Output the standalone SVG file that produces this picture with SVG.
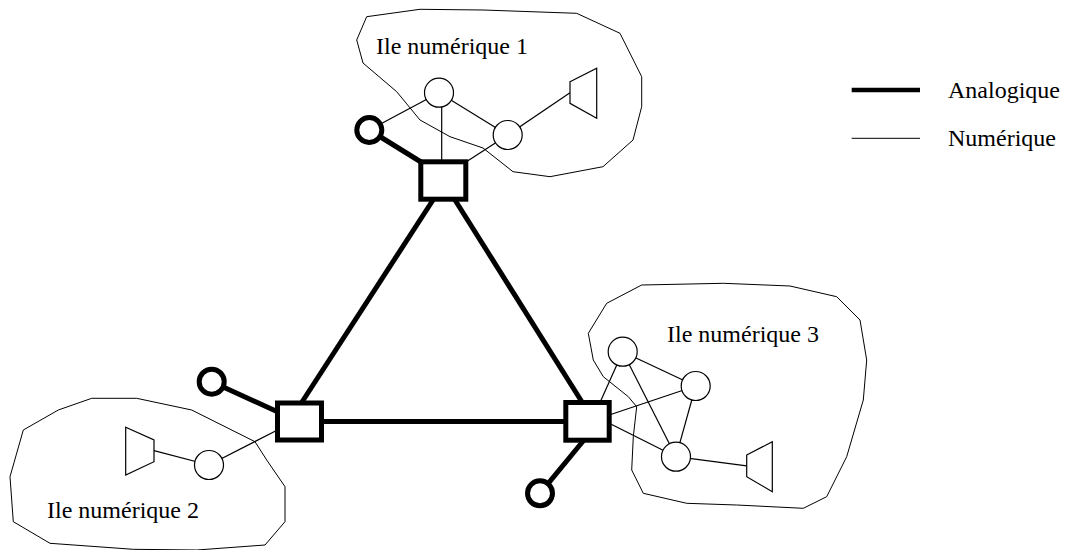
<svg xmlns="http://www.w3.org/2000/svg" width="1069" height="550" viewBox="0 0 1069 550">
<style>
.island{fill:none;stroke:#000;stroke-width:1;stroke-linejoin:round}
.thin{stroke:#000;stroke-width:1.2;fill:none}
.thick{stroke:#000;stroke-width:5;fill:none}
.dnode{fill:#fff;stroke:#000;stroke-width:1.2}
.phone{fill:#fff;stroke:#000;stroke-width:5}
.sw{fill:#fff;stroke:#000;stroke-width:5}
.lbl{font-family:"Liberation Serif","Times New Roman",serif;font-size:24px;fill:#000}
</style>
<rect width="1069" height="550" fill="#fff"/>
<g id="island1">
<polygon class="island" points="366.7,16.7 420,9.3 483,10 576.7,13.3 620,33.3 641.7,76.7 641.7,106.7 633,140 603,166.7 550,176.7 513,171.7 483,148 450,136.7 420,120 396.7,91.7 363,63 356.7,40"/>
<text class="lbl" x="376" y="54">Ile numérique 1</text>
</g>
<g id="island2">
<polygon class="island" points="91.7,398.3 136.7,398.3 191.7,410 255,441.7 266.7,460 285,486.7 285,521.7 265,545 196.7,550 133.3,549.3 50,543.3 13.3,521.7 10,476.7 23.3,430 58.3,410"/>
<text class="lbl" x="47" y="518">Ile numérique 2</text>
</g>
<g id="island3">
<polygon class="island" points="641.7,285 723.3,283.3 790,286 836.7,296.7 860,320 866.7,360 863.3,400 846.7,456.7 826.7,496.7 803.3,508.3 736.7,505 686.7,503.3 643.3,493.3 631.7,470 633.3,436.7 636.7,406.7 628.3,396.7 603.3,376.7 593.3,360 588.3,333.3 606.7,303.3"/>
<text class="lbl" x="667" y="342">Ile numérique 3</text>
</g>
<g id="connectors">
<line class="thick" x1="433" y1="200" x2="302" y2="402"/>
<line class="thick" x1="455" y1="200" x2="582" y2="402"/>
<line class="thick" x1="321" y1="421.5" x2="566" y2="421.5"/>
<line class="thick" x1="369.3" y1="130" x2="421" y2="162"/>
<line class="thick" x1="211.7" y1="381.7" x2="278" y2="412"/>
<line class="thick" x1="584" y1="440" x2="540" y2="493.3"/>
<line class="thin" x1="439" y1="92.7" x2="369.3" y2="130"/>
<line class="thin" x1="441.7" y1="107" x2="441.7" y2="162"/>
<line class="thin" x1="439" y1="92.7" x2="507.7" y2="135"/>
<line class="thin" x1="507.7" y1="135" x2="570" y2="92.7"/>
<line class="thin" x1="507.7" y1="135" x2="466" y2="162"/>
<line class="thin" x1="154" y1="450.7" x2="209" y2="465"/>
<line class="thin" x1="209" y1="465" x2="277.5" y2="430"/>
<line class="thin" x1="622.7" y1="351.7" x2="600" y2="402.5"/>
<line class="thin" x1="622.7" y1="351.7" x2="695.7" y2="386"/>
<line class="thin" x1="622.7" y1="351.7" x2="676" y2="456.7"/>
<line class="thin" x1="695.7" y1="386" x2="676" y2="456.7"/>
<line class="thin" x1="695.7" y1="386" x2="609.2" y2="415"/>
<line class="thin" x1="676" y1="456.7" x2="609.2" y2="423.3"/>
<line class="thin" x1="676" y1="456.7" x2="746.7" y2="465.8"/>
</g>
<g id="sw-top"><rect class="sw" x="420.8" y="161.8" width="45" height="37.4"/></g>
<g id="sw-left"><rect class="sw" x="277.5" y="403" width="44" height="37"/></g>
<g id="sw-right"><rect class="sw" x="565.8" y="402.5" width="43.4" height="37.7"/></g>
<g id="phone1"><circle class="phone" cx="369.3" cy="130" r="12.5"/></g>
<g id="phone2"><circle class="phone" cx="211.7" cy="381.7" r="12.5"/></g>
<g id="phone3"><circle class="phone" cx="540" cy="493.3" r="12.5"/></g>
<g id="n1a"><circle class="dnode" cx="439" cy="92.7" r="14.5"/></g>
<g id="n1b"><circle class="dnode" cx="507.7" cy="135" r="14.5"/></g>
<g id="t1"><polygon class="dnode" points="570,81.7 596.7,68.3 596.7,118.3 570,103.3"/></g>
<g id="n2a"><circle class="dnode" cx="209" cy="465" r="14.5"/></g>
<g id="t2"><polygon class="dnode" points="125.7,427.3 154,440 154,461.7 125.7,475"/></g>
<g id="n3a"><circle class="dnode" cx="622.7" cy="351.7" r="14.5"/></g>
<g id="n3b"><circle class="dnode" cx="695.7" cy="386" r="14.5"/></g>
<g id="n3c"><circle class="dnode" cx="676" cy="456.7" r="14.5"/></g>
<g id="t3"><polygon class="dnode" points="746.7,455 772.3,441.7 772.3,491.7 746.7,476.7"/></g>
<g id="legend">
<line x1="851.7" y1="90" x2="920" y2="90" stroke="#000" stroke-width="4.5"/>
<line x1="851.7" y1="138.3" x2="920" y2="138.3" stroke="#000" stroke-width="1"/>
<text class="lbl" x="948" y="98">Analogique</text>
<text class="lbl" x="948" y="146">Numérique</text>
</g>
</svg>
